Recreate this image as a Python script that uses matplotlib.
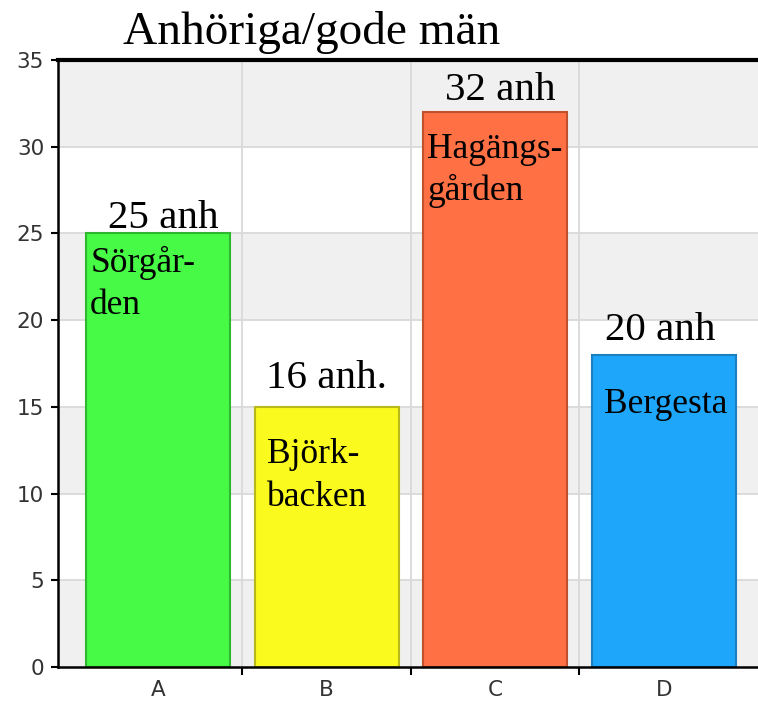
import numpy as np
import matplotlib.pyplot as plt

categories = ["A", "B", "C", "D"]
values = [25, 15, 32, 18]
top_labels = ["25 anh", "16 anh.", "32 anh", "20 anh"]
inner_labels = ["Sörgår-\nden", "Björk-\nbacken", "Hagängs-\ngården", "Bergesta"]
bar_colors = ["#46fa46", "#fafa1e", "#ff7045", "#1ea6fa"]
edge_colors = ["#2fb82f", "#b8b81a", "#c0502e", "#1b80c0"]
y_ticks = [0, 5, 10, 15, 20, 25, 30, 35]

fig = plt.figure(figsize=(7.58, 7.02), dpi=100)
ax = fig.add_axes([58 / 758, 35 / 702, 1 - 58 / 758, 607 / 702])

x = np.arange(len(categories))
ax.set_xlim(-0.595, 3.56)
ax.set_ylim(0, 35)

# alternating bands + grid
for i, lo in enumerate(y_ticks[:-1]):
    if i % 2 == 0:
        ax.axhspan(lo, lo + 5, color="#f0f0f0", zorder=0, lw=0)
for y in y_ticks[1:-1]:
    ax.axhline(y, color="#d9d9d9", lw=1.3, zorder=1)
for b in [0.5, 1.5, 2.5]:
    ax.axvline(b, color="#d9d9d9", lw=1.3, zorder=1)

ax.bar(x, values, width=0.855, color=bar_colors, edgecolor=edge_colors,
       linewidth=1.5, zorder=2)

serif = "Liberation Serif"
# label placement tweaks (x shift, baseline offset from bar top)
top_dx = [0.03, 0.0, 0.03, -0.02]
top_dy = [0.31, 1.09, 0.69, 0.85]
in_x = [-0.404, 0.647, 1.596, 2.647]
in_dy = [-2.22, -3.24, -2.65, -3.35]
line_gap = 2.45

for i, v in enumerate(values):
    ax.text(x[i] + top_dx[i], v + top_dy[i], top_labels[i], ha="center",
            va="baseline", fontsize=29.5, family=serif, zorder=3)
    for k, line in enumerate(inner_labels[i].split("\n")):
        ax.text(in_x[i], v + in_dy[i] - k * line_gap, line, ha="left",
                va="baseline", fontsize=25.5, family=serif, zorder=3)

fig.text(123 / 758, 1 - 44 / 702, "Anhöriga/gode män", ha="left",
         va="baseline", fontsize=34, family=serif)

ax.set_yticks(y_ticks)
ax.set_xticks(x)
ax.set_xticklabels(categories)
ax.set_xticks([0.5, 1.5, 2.5], minor=True)
ax.tick_params(axis="x", which="major", length=0, pad=9, labelsize=15.5,
               labelcolor="#333333")
ax.tick_params(axis="x", which="minor", length=6, width=1.5, direction="out")
ax.tick_params(axis="y", length=5, width=1.5, pad=5, labelsize=15.5,
               labelcolor="#333333")

for side in ["left", "bottom"]:
    ax.spines[side].set_linewidth(1.8)
ax.spines["top"].set_linewidth(3)
ax.spines["right"].set_visible(False)

fig.savefig("out.png", dpi=100)
